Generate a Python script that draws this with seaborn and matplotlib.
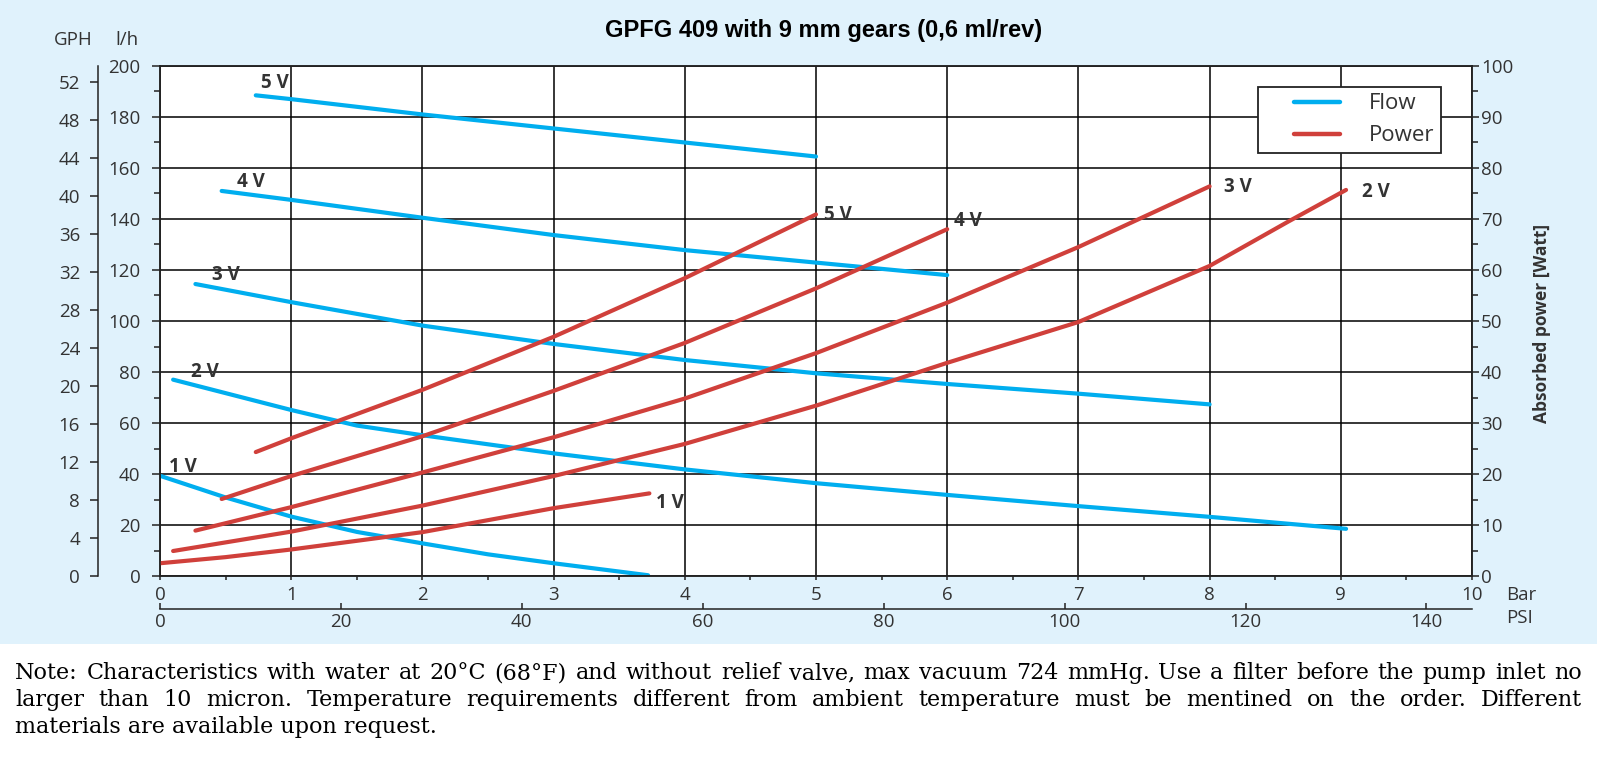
import numpy as np
import pandas as pd
import matplotlib
matplotlib.use("Agg")
import matplotlib.pyplot as plt
import seaborn as sns
from matplotlib.ticker import MultipleLocator
from matplotlib.lines import Line2D
from matplotlib.legend_handler import HandlerLine2D
from matplotlib.patches import Rectangle

# values (pressure in bar, flow in l/h, power in Watt)
voltages = ["1 V", "2 V", "3 V", "4 V", "5 V"]

flow_1v_bar = [0, 0.5, 1, 1.5, 2, 2.5, 3, 3.72]
flow_1v_lh = [39.3, 30.8, 23.3, 17.3, 12.8, 8.5, 5.0, 0.3]
flow_2v_bar = [0.1, 1, 1.5, 2, 3, 4, 5, 6, 7, 8, 9.04]
flow_2v_lh = [77, 65.1, 59, 55.2, 48.1, 41.8, 36.4, 31.8, 27.4, 23.2, 18.5]
flow_3v_bar = [0.27, 1, 2, 3, 4, 5, 6, 7, 8]
flow_3v_lh = [114.5, 107.4, 98.2, 91, 84.7, 79.5, 75.3, 71.5, 67.3]
flow_4v_bar = [0.47, 1, 2, 3, 4, 5, 6]
flow_4v_lh = [151, 147.5, 140.5, 133.7, 127.8, 122.9, 118]
flow_5v_bar = [0.73, 1, 2, 3, 4, 5]
flow_5v_lh = [188.5, 187, 181, 175.5, 170, 164.5]

power_1v_bar = [0, 0.5, 1, 2, 3, 3.73]
power_1v_w = [2.5, 3.7, 5.2, 8.6, 13.3, 16.2]
power_2v_bar = [0.1, 1, 2, 3, 4, 5, 6, 7, 8, 8.6, 9.04]
power_2v_w = [4.9, 8.7, 13.8, 19.6, 25.9, 33.4, 41.8, 49.8, 60.8, 69.5, 75.7]
power_3v_bar = [0.27, 1, 2, 3, 4, 5, 6, 7, 8]
power_3v_w = [8.9, 13.5, 20.3, 27.2, 34.8, 43.7, 53.6, 64.5, 76.4]
power_4v_bar = [0.47, 1, 2, 3, 4, 5, 6]
power_4v_w = [15.1, 19.6, 27.4, 36.3, 45.7, 56.4, 68]
power_5v_bar = [0.73, 1, 2, 3, 4, 5]
power_5v_w = [24.3, 27, 36.5, 46.9, 58.4, 70.9]

bar_ticks = list(range(0, 11))
lh_ticks = list(range(0, 201, 20))
gph_ticks = list(range(0, 53, 4))
watt_ticks = list(range(0, 101, 10))
psi_ticks = list(range(0, 141, 20))

note_lines = [
    "Note: Characteristics with water at 20°C (68°F) and without relief valve, max vacuum 724 mmHg. Use a filter before the pump inlet no",
    "larger than 10 micron. Temperature requirements different from ambient temperature must be mentined on the order. Different",
    "materials are available upon request.",
]

# label spots for the curve names (bar, value)
flow_label_pos = [(0.07, 42.9), (0.24, 80.1), (0.40, 118), (0.59, 154.6), (0.77, 193.3)]
power_label_pos = [(3.78, 14.4), (9.16, 75.2), (8.11, 76.3), (6.05, 69.7), (5.06, 70.8)]

BLUE = "#00AEEF"
RED = "#D0403B"
PANEL = "#E0F2FC"
INK = "#333333"
LINE = "#222222"
W, H = 1597, 759

flow_df = pd.concat([
    pd.DataFrame({"bar": b, "lh": q, "voltage": v})
    for v, b, q in zip(voltages,
                       [flow_1v_bar, flow_2v_bar, flow_3v_bar, flow_4v_bar, flow_5v_bar],
                       [flow_1v_lh, flow_2v_lh, flow_3v_lh, flow_4v_lh, flow_5v_lh])
])
power_df = pd.concat([
    pd.DataFrame({"bar": b, "watt": p, "voltage": v})
    for v, b, p in zip(voltages,
                       [power_1v_bar, power_2v_bar, power_3v_bar, power_4v_bar, power_5v_bar],
                       [power_1v_w, power_2v_w, power_3v_w, power_4v_w, power_5v_w])
])

sns.set_theme(style="ticks")
plt.rcParams["font.family"] = ["Open Sans", "DejaVu Sans"]

fig = plt.figure(figsize=(W / 100, H / 100), dpi=100)
fig.patch.set_facecolor("white")
fig.add_artist(Rectangle((0, 115 / H), 1, 644 / H, transform=fig.transFigure,
                         facecolor=PANEL, edgecolor="none", zorder=-10))

ax = fig.add_axes([160 / W, (H - 576) / H, 1312 / W, 510 / H])
ax.set_facecolor("white")

sns.lineplot(data=flow_df, x="bar", y="lh", units="voltage", estimator=None,
             color=BLUE, linewidth=3, solid_capstyle="round", ax=ax)
ax.set_xlim(0, 10)
ax.set_ylim(0, 200)
ax.set_xlabel("")
ax.set_ylabel("")
ax.set_xticks(bar_ticks)
ax.set_yticks(lh_ticks)
ax.xaxis.set_minor_locator(MultipleLocator(0.5))
ax.yaxis.set_minor_locator(MultipleLocator(10))
ax.grid(True, which="major", color="black", linewidth=1.1)
for s in ax.spines.values():
    s.set_color(LINE)
    s.set_linewidth(1.1)
ax.tick_params(axis="y", which="major", direction="out", length=6, width=1.1,
               pad=8, labelsize=13.5, labelcolor=INK, color=LINE)
ax.tick_params(axis="y", which="minor", direction="out", length=4.5, width=1.1, color=LINE)
ax.tick_params(axis="x", which="both", direction="out", length=3, width=1.1,
               pad=4, labelsize=13.5, labelcolor=INK, color=LINE)

for v, (bx, by) in zip(voltages, flow_label_pos):
    ax.text(bx, by, v, fontsize=13.5, fontweight="bold", color=INK, ha="left", va="center")

# power on the right-hand axis
ax2 = ax.twinx()
sns.lineplot(data=power_df, x="bar", y="watt", units="voltage", estimator=None,
             color=RED, linewidth=3, solid_capstyle="round", ax=ax2)
ax2.set_ylim(0, 100)
ax2.set_ylabel("")
ax2.set_yticks(watt_ticks)
ax2.yaxis.set_minor_locator(MultipleLocator(5))
for s in ax2.spines.values():
    s.set_color(LINE)
    s.set_linewidth(1.1)
ax2.tick_params(axis="y", which="major", direction="out", length=5, width=1.1,
                pad=1.5, labelsize=13.5, labelcolor=INK, color=LINE)
ax2.tick_params(axis="y", which="minor", direction="out", length=4.5, width=1.1, color=LINE)

for v, (bx, by) in zip(voltages, power_label_pos):
    ax2.text(bx, by, v, fontsize=13.5, fontweight="bold", color=INK, ha="left", va="center")

handles = [Line2D([], [], color=BLUE, linewidth=3.2), Line2D([], [], color=RED, linewidth=3.2)]
leg = ax2.legend(handles, ["Flow", "Power"], loc="upper right",
                 bbox_to_anchor=((1441 - 160) / 1312, (576 - 86.7) / 510),
                 frameon=True, fancybox=False, framealpha=1, edgecolor=LINE,
                 borderpad=0.3, labelspacing=0.5, handlelength=3.4,
                 handletextpad=1.3, borderaxespad=0, fontsize=16,
                 handler_map={Line2D: HandlerLine2D(xpad=1.35)})
leg.get_frame().set_linewidth(1.3)
for t in leg.get_texts():
    t.set_color(INK)

# GPH scale, an extra left axis set off from the l/h one
ax3 = ax.twinx()
ax3.set_ylim(0, 53.7)
ax3.yaxis.tick_left()
ax3.set_yticks(gph_ticks)
ax3.spines["left"].set_position(("outward", 44.6))
for name, s in ax3.spines.items():
    s.set_visible(name == "left")
    s.set_color(LINE)
    s.set_linewidth(1.1)
ax3.tick_params(axis="y", direction="out", length=6, width=1.1, pad=7,
                labelsize=13.5, labelcolor=INK, color=LINE)

# PSI scale below the bar scale
psi = ax.secondary_xaxis(-(609 - 576) / 510,
                         functions=(lambda b: b * 14.5038, lambda p: p / 14.5038))
psi.set_xticks(psi_ticks)
psi.spines["bottom"].set_color(LINE)
psi.spines["bottom"].set_linewidth(1.1)
psi.tick_params(axis="x", direction="in", length=4.3, width=1.1, pad=3,
                labelsize=13.5, labelcolor=INK, color=LINE)

fig.text(824 / W, 1 - 30.6 / H, "GPFG 409 with 9 mm gears (0,6 ml/rev)",
         family=["Liberation Sans", "DejaVu Sans"], fontsize=17, fontweight="bold",
         color="black", ha="center", va="center")
fig.text(73.7 / W, 1 - 40 / H, "GPH", fontsize=13.5, color=INK, ha="center", va="center")
fig.text(126.7 / W, 1 - 40 / H, "l/h", fontsize=13.5, color=INK, ha="center", va="center")
fig.text(1506 / W, 1 - 595 / H, "Bar", fontsize=13.5, color=INK, ha="left", va="center")
fig.text(1506 / W, 1 - 618.3 / H, "PSI", fontsize=13.5, color=INK, ha="left", va="center")
fig.text(1542 / W, 1 - 323 / H, "Absorbed power [Watt]", fontsize=12.5, fontweight="bold",
         color=INK, rotation=90, ha="center", va="center")

# justified note under the chart
renderer = fig.canvas.get_renderer()
left_px, right_px = 15, 1582
baselines = [H - 679.3, H - 706, H - 733.3]
for i, (line, yb) in enumerate(zip(note_lines, baselines)):
    if i == len(note_lines) - 1:
        fig.text(left_px / W, yb / H, line, family="DejaVu Serif", fontsize=16,
                 color="black", ha="left", va="baseline")
        continue
    words = line.split(" ")
    texts = [fig.text(0, yb / H, w, family="DejaVu Serif", fontsize=16,
                      color="black", ha="left", va="baseline") for w in words]
    widths = [t.get_window_extent(renderer=renderer).width for t in texts]
    gap = max(3, (right_px - left_px - sum(widths)) / (len(words) - 1))
    x = left_px
    for t, w in zip(texts, widths):
        t.set_x(x / W)
        x += w + gap

fig.savefig("out.png", dpi=100)
